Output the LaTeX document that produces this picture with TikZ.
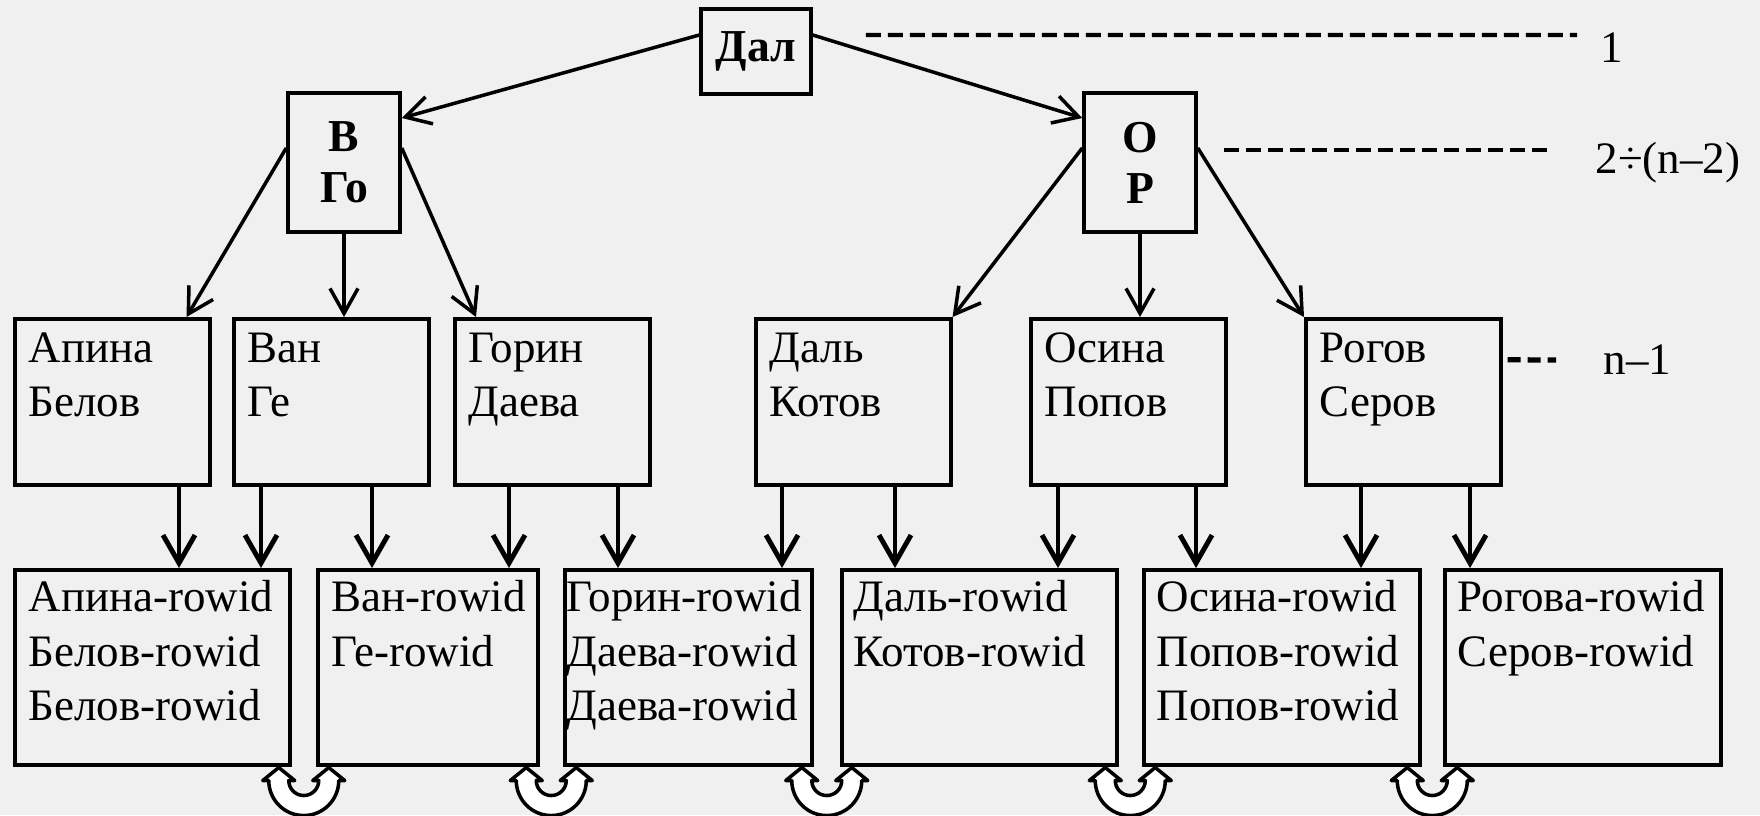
\documentclass[tikz,border=0pt]{standalone}
\usepackage{fontspec}
\setmainfont{Liberation Serif}
\usetikzlibrary{arrows.meta,calc}
\definecolor{paper}{RGB}{240,240,240}

\begin{document}
\begin{tikzpicture}[
x=0.1mm, y=-0.1mm,
font=\fontsize{12.8}{15.5}\selectfont,
root/.style={rectangle,draw,line width=1pt,align=center,inner sep=0pt,font=\fontsize{13}{14.5}\selectfont\bfseries},
index/.style={rectangle,draw,line width=1pt,anchor=north west,minimum width=19.5mm,minimum height=16.6mm,inner sep=0pt},
leaf/.style={rectangle,draw,line width=1pt,anchor=north west,minimum height=19.5mm,inner sep=0pt},
entry/.style={anchor=north west,align=left,inner xsep=1.5mm,inner ysep=1.5mm},
levelname/.style={anchor=west,inner sep=0pt},
link/.style={-{Straight Barb[length=2.5mm,width=2.8mm]},line width=1pt},
down/.style={-{Straight Barb[length=2.8mm,width=3.2mm]},line width=1.4pt},
level/.style={line width=1.2pt,dash pattern=on 1.5mm off 0.7mm},
swap/.style={draw,line width=1pt,fill=white,line join=round},
]

\useasboundingbox[fill=paper] (0,0) rectangle (1760,815);

% Root and second level
\node[root,minimum width=11mm,minimum height=8.5mm] (top) at (756,51.5) {Дал};
\node[root,minimum width=11.2mm,minimum height=13.9mm] (vgo) at (344,162.5) {В\\Го};
\node[root,minimum width=11.2mm,minimum height=13.9mm] (orr) at (1140,162.5) {О\\Р};

% Index blocks (level n-1)
\foreach \nm/\xl/\ta/\tb in {ap/13/Апина/Белов, van/232/Ван/Ге, gor/453/Горин/Даева, dal/754/Даль/Котов, os/1029/Осина/Попов, rog/1304/Рогов/Серов}{
  \node[index] (\nm) at (\xl,317) {};
  \node[entry] (\nm-txt) at (\nm.north west) {\ta\\\tb};
}

% Leaf blocks with rowid
\foreach \nm/\xl/\w/\pad/\txt in {apr/13/275/1.5/{Апина-rowid\\Белов-rowid\\Белов-rowid}, vanr/316/220/1.5/{Ван-rowid\\Ге-rowid}, gorr/563/247/0.3/{Горин-rowid\\Даева-rowid\\Даева-rowid}, dalr/840/275/1.3/{Даль-rowid\\Котов-rowid}, osr/1142/276/1.4/{Осина-rowid\\Попов-rowid\\Попов-rowid}, rogr/1443/276/1.4/{Рогова-rowid\\Серов-rowid}}{
  \node[leaf,minimum width=\w*0.1mm] (\nm) at (\xl,568) {};
  \node[entry,inner xsep=\pad mm,inner ysep=1.2mm] (\nm-txt) at (\nm.north west) {\txt};
}

% Tree links
\draw[link] ([yshift=1.65mm]top.west) -- ([yshift=4.45mm]vgo.east);
\draw[link] ([yshift=1.65mm]top.east) -- ([yshift=4.45mm]orr.west);
\draw[link] ([yshift=1.45mm]vgo.west) -- ([xshift=-2.5mm]ap.north east);
\draw[link] (vgo.south) -- (vgo.south |- van.north);
\draw[link] ([yshift=1.45mm]vgo.east) -- ([xshift=2.3mm]gor.north west);
\draw[link] ([yshift=1.45mm]orr.west) -- (dal.north east);
\draw[link] (orr.south) -- (orr.south |- os.north);
\draw[link] ([yshift=1.45mm]orr.east) -- (rog.north west);

% Index to leaf
\foreach \x/\a/\b in {179/ap/apr, 261/van/apr, 372/van/vanr, 509/gor/vanr, 618/gor/gorr, 782/dal/gorr, 895/dal/dalr, 1058/os/dalr, 1196/os/osr, 1361/rog/osr, 1470/rog/rogr}
  \draw[down] (\x,0 |- \a.south) -- (\x,0 |- \b.north);

% Links between leaves
\foreach \a/\b in {apr/vanr, vanr/gorr, gorr/dalr, dalr/osr, osr/rogr}{
  \coordinate (\a-\b) at ($(\a.south east)!0.5!(\b.south west)$);
  \begin{scope}[shift={(\a-\b)}]
    \draw[swap] (-25,1) -- (-9,14) -- (-15,14) arc[start angle=180,end angle=360,radius=1.5mm]
      -- (9,14) -- (25,1) -- (41,14) -- (35,14) arc[start angle=0,end angle=-180,radius=3.5mm]
      -- (-41,14) -- cycle;
  \end{scope}
}

% Levels
\node[levelname] (l1) at (1600,48) {1};
\node[levelname] (l2) at (1595,163) {2÷(n–2)};
\node[levelname] (l3) at (1603,360) {n–1};
\draw[level] ([xshift=5.3mm,yshift=1.65mm]top.east) -- ([xshift=-2.3mm,yshift=1.3mm]l1.west);
\draw[level] ([xshift=2.6mm,yshift=1.25mm]orr.east) -- ([xshift=-4.5mm,yshift=1.3mm]l2.west);
\draw[level,line width=1.5pt,dash pattern=on 1.3mm off 0.7mm] ([xshift=0.5mm,yshift=4.2mm]rog.east) -- ([xshift=-4.7mm]l3.west);
\end{tikzpicture}
\end{document}
